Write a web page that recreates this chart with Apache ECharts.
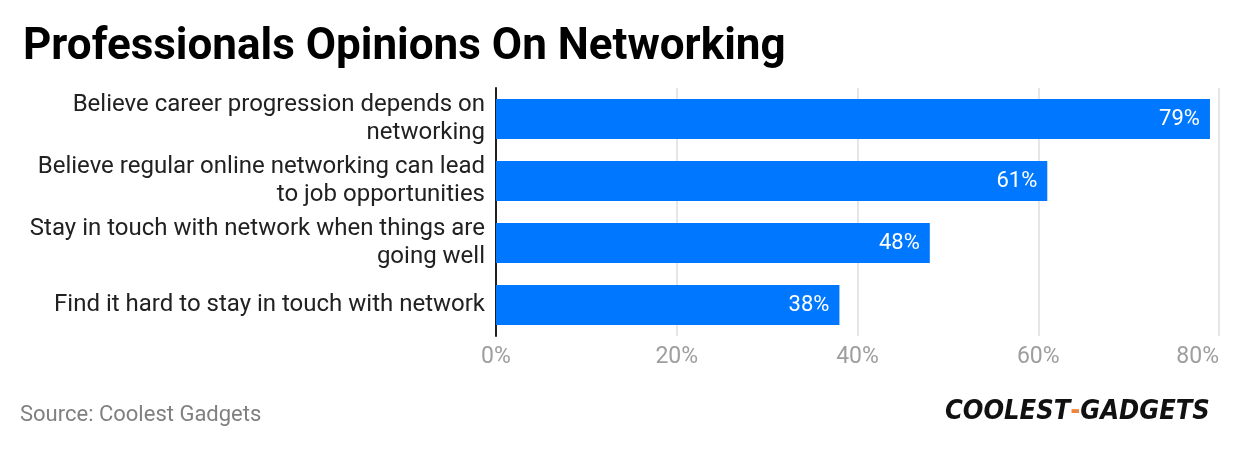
<!DOCTYPE html>
<html>
<head>
<meta charset="utf-8">
<script src="https://cdn.jsdelivr.net/npm/echarts@6/dist/echarts.min.js"></script>
<style>
html,body{margin:0;padding:0;background:#fff;}
#chart{width:1240px;height:450px;}
</style>
</head>
<body>
<div id="chart"></div>
<script>
const titleText = 'Professionals Opinions On Networking';
const sourceText = 'Source: Coolest Gadgets';
const categories = [
  'Believe career progression depends on networking',
  'Believe regular online networking can lead to job opportunities',
  'Stay in touch with network when things are going well',
  'Find it hard to stay in touch with network'
];
const values = [79, 61, 48, 38];
const xTicks = [0, 20, 40, 60, 80];

const measureCtx = document.createElement('canvas').getContext('2d');
function wrapLabel(text, font, maxWidth) {
  measureCtx.font = font;
  const words = text.split(' ');
  const lines = [];
  let cur = '';
  words.forEach(w => {
    const test = cur ? cur + ' ' + w : w;
    if (cur && measureCtx.measureText(test).width > maxWidth) {
      lines.push(cur);
      cur = w;
    } else {
      cur = test;
    }
  });
  if (cur) lines.push(cur);
  return lines.join('\n');
}

const chart = echarts.init(document.getElementById('chart'), null, {renderer: 'canvas'});
const option = {
  backgroundColor: '#ffffff',
  animation: false,
  textStyle: {fontFamily: 'Roboto'},
  title: {
    text: titleText,
    left: 18,
    top: 21,
    textStyle: {fontFamily: 'Roboto', fontWeight: 'bold', fontSize: 44, color: '#000000'}
  },
  grid: {left: 496, right: 21, top: 88, bottom: 114, containLabel: false},
  xAxis: {
    type: 'value',
    min: xTicks[0],
    max: xTicks[xTicks.length - 1],
    interval: 20,
    axisLine: {show: false},
    axisTick: {show: false},
    splitLine: {show: true, lineStyle: {color: '#e6e6e6', width: 2}},
    axisLabel: {
      formatter: v => v + '%',
      color: '#9e9e9e',
      fontSize: 23,
      margin: 10,
      alignMaxLabel: 'right'
    }
  },
  yAxis: {
    type: 'category',
    inverse: true,
    data: categories,
    axisLine: {show: true, lineStyle: {color: '#212121', width: 2}},
    axisTick: {show: false},
    axisLabel: {
      color: '#212121',
      fontSize: 24,
      lineHeight: 28,
      margin: 11,
      align: 'right',
      formatter: v => wrapLabel(v, '24px Roboto', 466)
    }
  },
  series: [{
    type: 'bar',
    data: values,
    barWidth: 40,
    itemStyle: {color: '#0077ff'},
    label: {
      show: true,
      position: 'insideRight',
      formatter: p => p.value + '%',
      color: '#ffffff',
      fontSize: 22,
      distance: 10
    }
  }],
  graphic: [
    {
      type: 'text',
      left: 20,
      top: 404,
      style: {text: sourceText, fill: '#808080', font: '22px Roboto'}
    },
    {
      type: 'text',
      left: 945,
      top: 398,
      style: {
        text: '{a|COOLEST}{b|-}{a|GADGETS}',
        rich: {
          a: {fontFamily: 'DejaVu Sans Condensed', fontWeight: 'bold', fontStyle: 'italic', fontSize: 27, fill: '#111111'},
          b: {fontFamily: 'DejaVu Sans Condensed', fontWeight: 'bold', fontSize: 27, fill: '#f0833a'}
        }
      }
    }
  ]
};
chart.setOption(option);
</script>
</body>
</html>
